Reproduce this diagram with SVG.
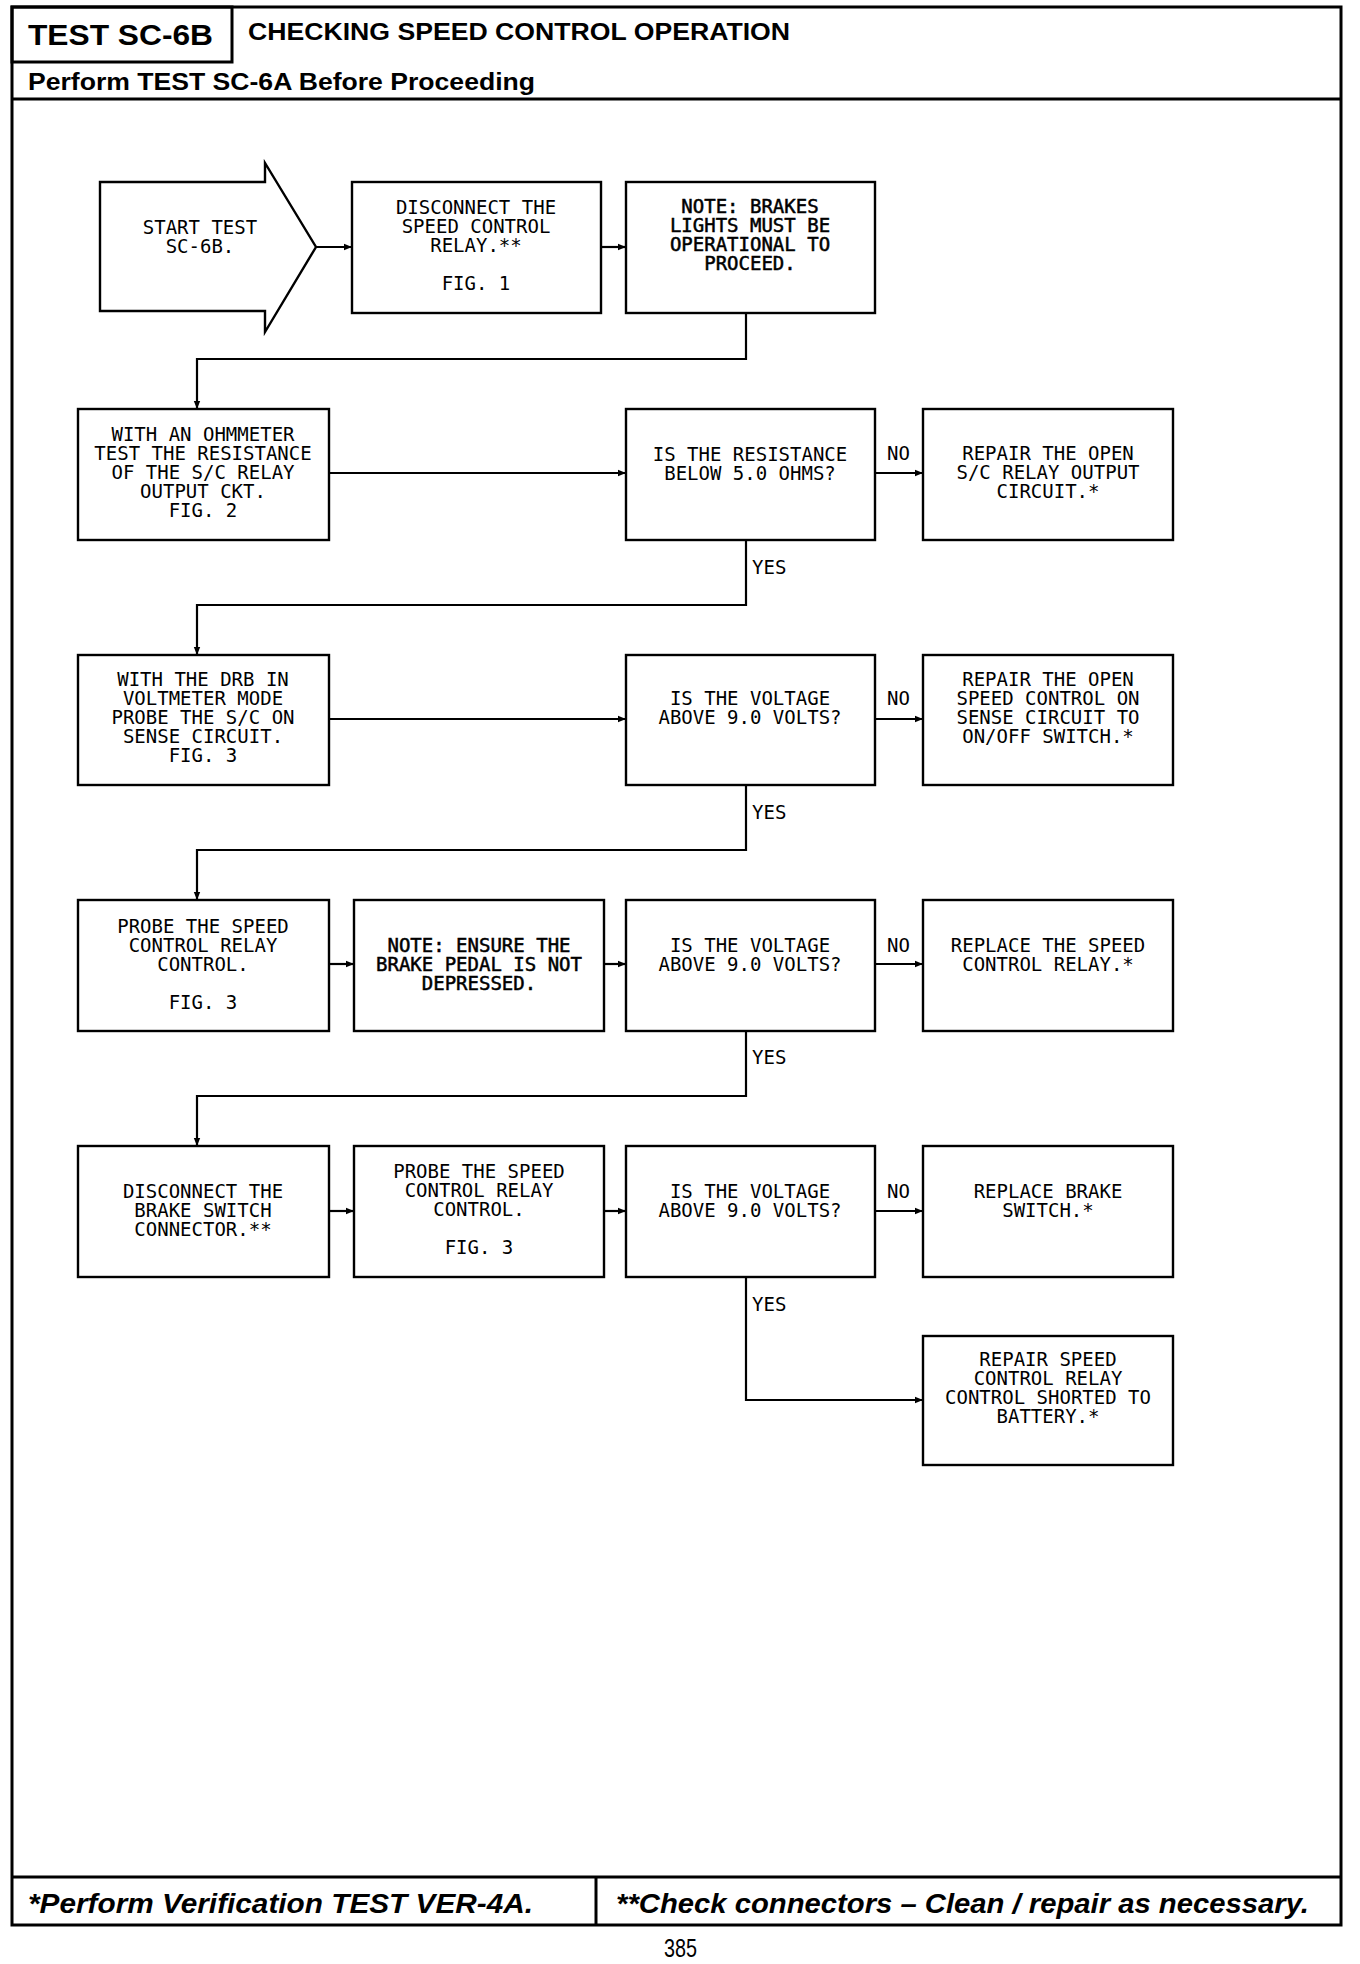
<svg xmlns="http://www.w3.org/2000/svg" width="1360" height="1964" viewBox="0 0 1360 1964">
<style>
.frame{fill:none;stroke:#000;stroke-width:3}
.box{fill:#fff;stroke:#000;stroke-width:2.4}
.t{font-family:"DejaVu Sans Mono","Liberation Mono",monospace;font-size:19px;text-anchor:middle;fill:#000}
.note{stroke:#000;stroke-width:0.5}
.lbl{font-family:"DejaVu Sans Mono","Liberation Mono",monospace;font-size:19px;fill:#000}
.conn{fill:none;stroke:#000;stroke-width:2.2}
.hd{font-family:"Liberation Sans",Arial,sans-serif;font-weight:bold;fill:#000}
.ft{font-family:"Liberation Sans",Arial,sans-serif;font-weight:bold;font-style:italic;fill:#000}
</style>
<defs>
<marker id="ah" viewBox="0 0 10 10" refX="10" refY="5" markerWidth="8" markerHeight="8" markerUnits="userSpaceOnUse" orient="auto">
<path d="M0,1 L10,5 L0,9 z" fill="#000"/>
</marker>
</defs>
<rect width="1360" height="1964" fill="#fff"/>

<g id="page-frame">
<rect class="frame" x="12" y="7" width="1329" height="1918"/>
<rect class="frame" x="12" y="7" width="220" height="55"/>
<line class="frame" x1="12" y1="99" x2="1341" y2="99"/>
<line class="frame" x1="12" y1="1877" x2="1341" y2="1877"/>
<line class="frame" x1="596" y1="1877" x2="596" y2="1925" stroke-width="2"/>
<text class="hd" x="28" y="45" font-size="29" textLength="185" lengthAdjust="spacingAndGlyphs">TEST SC-6B</text>
<text class="hd" x="248" y="40" font-size="24" textLength="542" lengthAdjust="spacingAndGlyphs">CHECKING SPEED CONTROL OPERATION</text>
<text class="hd" x="28" y="90" font-size="24" textLength="507" lengthAdjust="spacingAndGlyphs">Perform TEST SC-6A Before Proceeding</text>
<text class="ft" x="28" y="1913" font-size="28" textLength="505" lengthAdjust="spacingAndGlyphs">*Perform Verification TEST VER-4A.</text>
<text class="ft" x="616" y="1913" font-size="28" textLength="693" lengthAdjust="spacingAndGlyphs">**Check connectors – Clean / repair as necessary.</text>
<text x="664" y="1957" font-family="Liberation Sans,Arial,sans-serif" font-size="25" textLength="33" lengthAdjust="spacingAndGlyphs">385</text>
</g>

<g id="connectors">
<line class="conn" x1="316" y1="247" x2="352" y2="247" marker-end="url(#ah)"/>
<line class="conn" x1="601" y1="247" x2="626" y2="247" marker-end="url(#ah)"/>
<polyline class="conn" points="746,313 746,359 197,359 197,409" marker-end="url(#ah)"/>

<line class="conn" x1="329" y1="473" x2="626" y2="473" marker-end="url(#ah)"/>
<line class="conn" x1="875" y1="473" x2="923" y2="473" marker-end="url(#ah)"/>
<polyline class="conn" points="746,540 746,605 197,605 197,655" marker-end="url(#ah)"/>

<line class="conn" x1="329" y1="719" x2="626" y2="719" marker-end="url(#ah)"/>
<line class="conn" x1="875" y1="719" x2="923" y2="719" marker-end="url(#ah)"/>
<polyline class="conn" points="746,785 746,850 197,850 197,900" marker-end="url(#ah)"/>

<line class="conn" x1="329" y1="964" x2="354" y2="964" marker-end="url(#ah)"/>
<line class="conn" x1="604" y1="964" x2="626" y2="964" marker-end="url(#ah)"/>
<line class="conn" x1="875" y1="964" x2="923" y2="964" marker-end="url(#ah)"/>
<polyline class="conn" points="746,1031 746,1096 197,1096 197,1146" marker-end="url(#ah)"/>

<line class="conn" x1="329" y1="1211" x2="354" y2="1211" marker-end="url(#ah)"/>
<line class="conn" x1="604" y1="1211" x2="626" y2="1211" marker-end="url(#ah)"/>
<line class="conn" x1="875" y1="1211" x2="923" y2="1211" marker-end="url(#ah)"/>
<polyline class="conn" points="746,1277 746,1400 923,1400" marker-end="url(#ah)"/>

<text class="lbl" x="887" y="460">NO</text>
<text class="lbl" x="887" y="705">NO</text>
<text class="lbl" x="887" y="952">NO</text>
<text class="lbl" x="887" y="1198">NO</text>
<text class="lbl" x="752" y="574">YES</text>
<text class="lbl" x="752" y="819">YES</text>
<text class="lbl" x="752" y="1064">YES</text>
<text class="lbl" x="752" y="1311">YES</text>
</g>

<g id="start">
<polygon class="box" points="100,182 265,182 265,163 316,247 265,332 265,311 100,311"/>
<text class="t" x="200" y="234">START TEST</text>
<text class="t" x="200" y="253">SC-6B.</text>
</g>

<g id="disconnect-relay">
<rect class="box" x="352" y="182" width="249" height="131"/>
<text class="t" x="476" y="214">DISCONNECT THE</text>
<text class="t" x="476" y="233">SPEED CONTROL</text>
<text class="t" x="476" y="252">RELAY.**</text>
<text class="t" x="476" y="290">FIG. 1</text>
</g>

<g id="note-brake-lights">
<rect class="box" x="626" y="182" width="249" height="131"/>
<text class="t note" x="750" y="213">NOTE: BRAKES</text>
<text class="t note" x="750" y="232">LIGHTS MUST BE</text>
<text class="t note" x="750" y="251">OPERATIONAL TO</text>
<text class="t note" x="750" y="270">PROCEED.</text>
</g>

<g id="ohmmeter-test">
<rect class="box" x="78" y="409" width="251" height="131"/>
<text class="t" x="203" y="441">WITH AN OHMMETER</text>
<text class="t" x="203" y="460">TEST THE RESISTANCE</text>
<text class="t" x="203" y="479">OF THE S/C RELAY</text>
<text class="t" x="203" y="498">OUTPUT CKT.</text>
<text class="t" x="203" y="517">FIG. 2</text>
</g>

<g id="q-resistance">
<rect class="box" x="626" y="409" width="249" height="131"/>
<text class="t" x="750" y="461">IS THE RESISTANCE</text>
<text class="t" x="750" y="480">BELOW 5.0 OHMS?</text>
</g>

<g id="repair-relay-output">
<rect class="box" x="923" y="409" width="250" height="131"/>
<text class="t" x="1048" y="460">REPAIR THE OPEN</text>
<text class="t" x="1048" y="479">S/C RELAY OUTPUT</text>
<text class="t" x="1048" y="498">CIRCUIT.*</text>
</g>

<g id="drb-voltmeter">
<rect class="box" x="78" y="655" width="251" height="130"/>
<text class="t" x="203" y="686">WITH THE DRB IN</text>
<text class="t" x="203" y="705">VOLTMETER MODE</text>
<text class="t" x="203" y="724">PROBE THE S/C ON</text>
<text class="t" x="203" y="743">SENSE CIRCUIT.</text>
<text class="t" x="203" y="762">FIG. 3</text>
</g>

<g id="q-voltage-1">
<rect class="box" x="626" y="655" width="249" height="130"/>
<text class="t" x="750" y="705">IS THE VOLTAGE</text>
<text class="t" x="750" y="724">ABOVE 9.0 VOLTS?</text>
</g>

<g id="repair-on-sense">
<rect class="box" x="923" y="655" width="250" height="130"/>
<text class="t" x="1048" y="686">REPAIR THE OPEN</text>
<text class="t" x="1048" y="705">SPEED CONTROL ON</text>
<text class="t" x="1048" y="724">SENSE CIRCUIT TO</text>
<text class="t" x="1048" y="743">ON/OFF SWITCH.*</text>
</g>

<g id="probe-relay-1">
<rect class="box" x="78" y="900" width="251" height="131"/>
<text class="t" x="203" y="933">PROBE THE SPEED</text>
<text class="t" x="203" y="952">CONTROL RELAY</text>
<text class="t" x="203" y="971">CONTROL.</text>
<text class="t" x="203" y="1009">FIG. 3</text>
</g>

<g id="note-brake-pedal">
<rect class="box" x="354" y="900" width="250" height="131"/>
<text class="t note" x="479" y="952">NOTE: ENSURE THE</text>
<text class="t note" x="479" y="971">BRAKE PEDAL IS NOT</text>
<text class="t note" x="479" y="990">DEPRESSED.</text>
</g>

<g id="q-voltage-2">
<rect class="box" x="626" y="900" width="249" height="131"/>
<text class="t" x="750" y="952">IS THE VOLTAGE</text>
<text class="t" x="750" y="971">ABOVE 9.0 VOLTS?</text>
</g>

<g id="replace-relay">
<rect class="box" x="923" y="900" width="250" height="131"/>
<text class="t" x="1048" y="952">REPLACE THE SPEED</text>
<text class="t" x="1048" y="971">CONTROL RELAY.*</text>
</g>

<g id="disconnect-brake-switch">
<rect class="box" x="78" y="1146" width="251" height="131"/>
<text class="t" x="203" y="1198">DISCONNECT THE</text>
<text class="t" x="203" y="1217">BRAKE SWITCH</text>
<text class="t" x="203" y="1236">CONNECTOR.**</text>
</g>

<g id="probe-relay-2">
<rect class="box" x="354" y="1146" width="250" height="131"/>
<text class="t" x="479" y="1178">PROBE THE SPEED</text>
<text class="t" x="479" y="1197">CONTROL RELAY</text>
<text class="t" x="479" y="1216">CONTROL.</text>
<text class="t" x="479" y="1254">FIG. 3</text>
</g>

<g id="q-voltage-3">
<rect class="box" x="626" y="1146" width="249" height="131"/>
<text class="t" x="750" y="1198">IS THE VOLTAGE</text>
<text class="t" x="750" y="1217">ABOVE 9.0 VOLTS?</text>
</g>

<g id="replace-brake-switch">
<rect class="box" x="923" y="1146" width="250" height="131"/>
<text class="t" x="1048" y="1198">REPLACE BRAKE</text>
<text class="t" x="1048" y="1217">SWITCH.*</text>
</g>

<g id="repair-shorted">
<rect class="box" x="923" y="1336" width="250" height="129"/>
<text class="t" x="1048" y="1366">REPAIR SPEED</text>
<text class="t" x="1048" y="1385">CONTROL RELAY</text>
<text class="t" x="1048" y="1404">CONTROL SHORTED TO</text>
<text class="t" x="1048" y="1423">BATTERY.*</text>
</g>
</svg>
